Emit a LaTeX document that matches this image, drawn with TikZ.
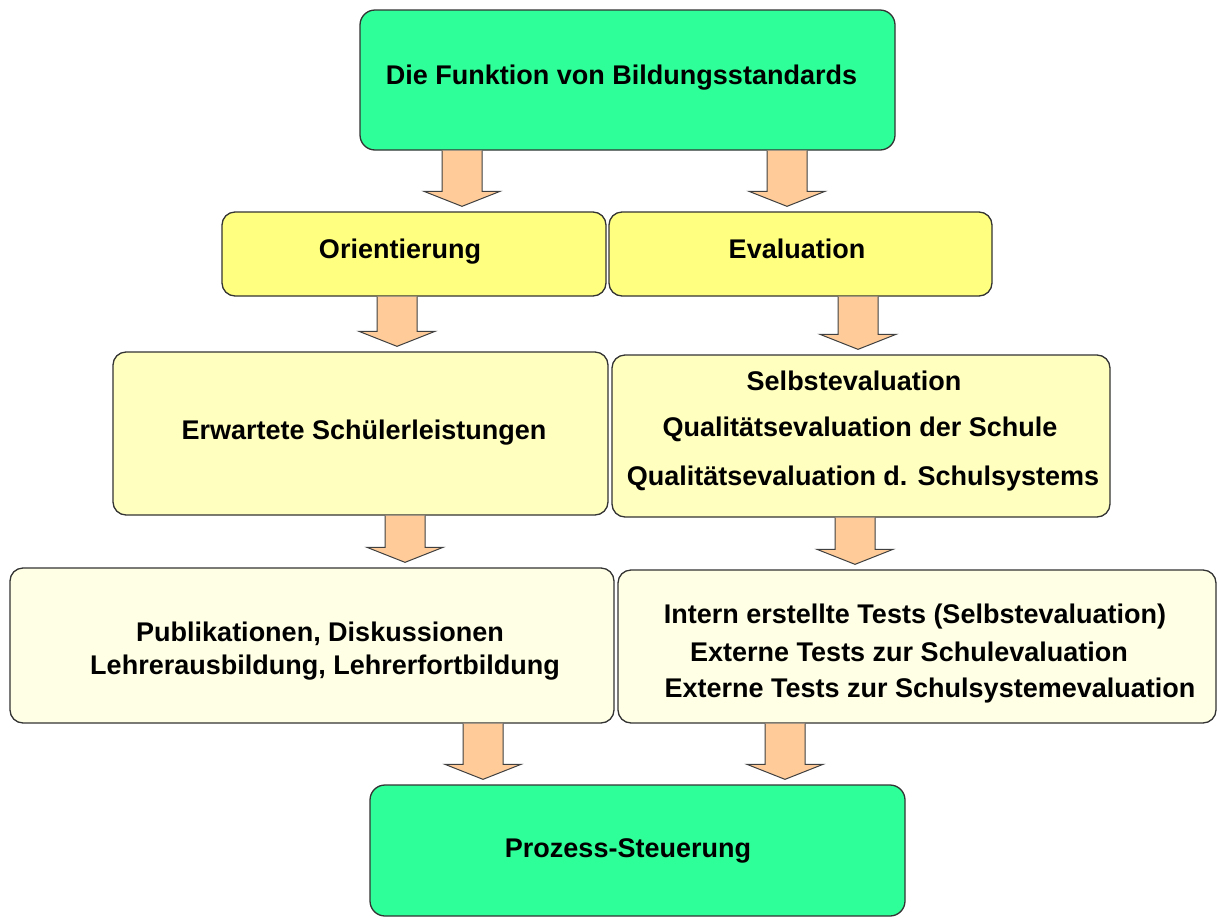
\documentclass[tikz,border=0pt]{standalone}
\usepackage{fontspec}
\setmainfont{Liberation Sans}
\usetikzlibrary{calc}
\definecolor{cgreen}{HTML}{2EFF98}
\definecolor{cyellowA}{HTML}{FFFF80}
\definecolor{cyellowB}{HTML}{FFFFC0}
\definecolor{cyellowC}{HTML}{FFFFE6}
\definecolor{carrow}{HTML}{FFCC99}
\newcommand\blockarrow[3]{%
  \draw[barrow] let \p1=(#2.south), \p2=(#3.north) in
    ({#1pt-20pt},\y1) -- ({#1pt-20pt},{\y2+20pt}) -- ({#1pt-38pt},{\y2+20pt})
    -- ({#1pt},{\y2+5pt}) -- ({#1pt+38pt},{\y2+20pt}) -- ({#1pt+20pt},{\y2+20pt})
    -- ({#1pt+20pt},\y1);
}
\begin{document}
\begin{tikzpicture}[x=1pt,y=-1pt,
  box/.style={draw=black!80, line width=1.3pt, rounded corners=13pt, inner sep=0pt},
  txt/.style={anchor=base, inner sep=0pt, text=black, font=\fontsize{27}{31}\selectfont\bfseries},
  barrow/.style={fill=carrow, draw=black!75, line width=1pt, line join=miter}]
\useasboundingbox (0,0) rectangle (1219,919);

% boxes
\node[box, fill=cgreen, rounded corners=15pt, minimum width=535pt, minimum height=140pt] (top) at (627.5,80) {};
\node[box, fill=cyellowA, minimum width=384pt, minimum height=84pt] (orient) at (414,254) {};
\node[box, fill=cyellowA, minimum width=383pt, minimum height=84pt] (eval) at (800.5,254) {};
\node[box, fill=cyellowB, minimum width=495pt, minimum height=163pt] (erw) at (360.5,433.5) {};
\node[box, fill=cyellowB, minimum width=498pt, minimum height=162pt] (selbst) at (861,436) {};
\node[box, fill=cyellowC, minimum width=604pt, minimum height=155pt] (publ) at (312,645.5) {};
\node[box, fill=cyellowC, minimum width=598pt, minimum height=153pt] (intern) at (917,646.5) {};
\node[box, fill=cgreen, rounded corners=15pt, minimum width=535pt, minimum height=131pt] (proz) at (637.5,850.5) {};

% texts
\node[txt] (t1) at (621.5,84) {Die Funktion von Bildungsstandards};
\node[txt] (t2) at (400,258) {Orientierung};
\node[txt] (t3) at (797,258) {Evaluation};
\node[txt] (t4) at (364,439) {Erwartete Schülerleistungen};
\node[txt] (t5a) at (854,390) {Selbstevaluation};
\node[txt] (t5b) at (860,436) {Qualitätsevaluation der Schule};
\node[txt] (t5c) at (863,485) {Qualitätsevaluation d. Schulsystems};
\node[txt] (t6a) at (320,641) {Publikationen, Diskussionen};
\node[txt] (t6b) at (325,674) {Lehrerausbildung, Lehrerfortbildung};
\node[txt] (t7a) at (915,623) {Intern erstellte Tests (Selbstevaluation)};
\node[txt] (t7b) at (909,661) {Externe Tests zur Schulevaluation};
\node[txt] (t7c) at (930,697) {Externe Tests zur Schulsystemevaluation};
\node[txt] (t8) at (628,857) {Prozess-Steuerung};

% arrows
\blockarrow{462}{top}{orient}
\blockarrow{787}{top}{eval}
\blockarrow{397}{orient}{erw}
\blockarrow{858}{eval}{selbst}
\blockarrow{405}{erw}{publ}
\blockarrow{855}{selbst}{intern}
\blockarrow{483}{publ}{proz}
\blockarrow{785}{intern}{proz}
\end{tikzpicture}
\end{document}
